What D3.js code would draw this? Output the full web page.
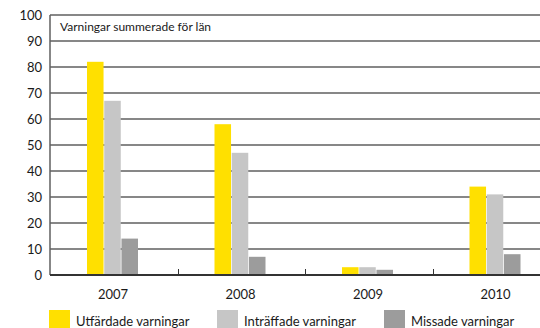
<!DOCTYPE html>
<html lang="sv">
<head>
<meta charset="UTF-8">
<title>Varningar summerade för län</title>
<script src="https://d3js.org/d3.v7.min.js"></script>
<style>
  body { margin: 0; background: #fff; }
  svg text { font-family: Lato, "Open Sans", sans-serif; fill: #1a1a1a; }
</style>
</head>
<body>
<div id="chart"></div>
<script>
var years = ['2007', '2008', '2009', '2010'];
var seriesNames = ['Utfärdade varningar', 'Inträffade varningar', 'Missade varningar'];
var utfardade = [82, 58, 3, 34];
var intraffade = [67, 47, 3, 31];
var missade = [14, 7, 2, 8];
var yTicks = [0, 10, 20, 30, 40, 50, 60, 70, 80, 90, 100];
var colors = ['#ffe000', '#c6c6c6', '#9c9c9c'];

var W = 540, H = 328;
var margin = { top: 15, left: 50 };
var plotW = 510, plotH = 260;

var svg = d3.select('#chart').append('svg')
  .attr('width', W).attr('height', H);

var g = svg.append('g')
  .attr('transform', 'translate(' + margin.left + ',' + margin.top + ')');

var x = d3.scaleBand().domain(years).range([0, plotW]);
var xs = d3.scaleBand().domain(d3.range(3)).range([37, 88]).paddingInner(0.04);
var y = d3.scaleLinear().domain([0, 100]).range([plotH, 0]);

// gridlines
g.selectAll('.grid').data(yTicks.slice(1)).enter().append('line')
  .attr('x1', 0).attr('x2', W - margin.left)
  .attr('y1', function (d) { return y(d); })
  .attr('y2', function (d) { return y(d); })
  .attr('stroke', '#5f5f5f').attr('stroke-width', 1.5);

// y labels
g.selectAll('.ylab').data(yTicks).enter().append('text')
  .attr('x', -8)
  .attr('y', function (d) { return y(d) + 4.5; })
  .attr('text-anchor', 'end')
  .attr('font-size', 13)
  .text(function (d) { return d; });

// bars
var table = years.map(function (yr, i) {
  return { year: yr, vals: [utfardade[i], intraffade[i], missade[i]] };
});

var groups = g.selectAll('.grp').data(table).enter().append('g')
  .attr('transform', function (d) { return 'translate(' + x(d.year) + ',0)'; });

groups.selectAll('rect').data(function (d) { return d.vals; }).enter().append('rect')
  .attr('x', function (d, i) { return xs(i); })
  .attr('width', xs.bandwidth())
  .attr('y', function (d) { return y(d); })
  .attr('height', function (d) { return plotH - y(d); })
  .attr('fill', function (d, i) { return colors[i]; });

// axes lines
g.append('line').attr('x1', 0).attr('x2', 0).attr('y1', 0).attr('y2', plotH)
  .attr('stroke', '#5f5f5f').attr('stroke-width', 1.5);
g.append('line').attr('x1', 0).attr('x2', W - margin.left).attr('y1', plotH).attr('y2', plotH)
  .attr('stroke', '#333').attr('stroke-width', 2);

// category separators
g.selectAll('.sep').data(years.slice(1)).enter().append('line')
  .attr('x1', function (d) { return Math.round(x(d)) + 0.5; })
  .attr('x2', function (d) { return Math.round(x(d)) + 0.5; })
  .attr('y1', plotH - 6).attr('y2', plotH)
  .attr('stroke', '#333').attr('stroke-width', 1);

// x labels
g.selectAll('.xlab').data(years).enter().append('text')
  .attr('x', function (d) { return x(d) + 63; })
  .attr('y', plotH + 24)
  .attr('text-anchor', 'middle')
  .attr('font-size', 13)
  .text(function (d) { return d; });

// title
g.append('text').attr('x', 10).attr('y', 16)
  .attr('font-size', 12)
  .text('Varningar summerade för län');

// legend
var legX = [49, 217, 384];
var leg = svg.selectAll('.leg').data(seriesNames).enter().append('g')
  .attr('transform', function (d, i) { return 'translate(' + legX[i] + ',310)'; });
leg.append('rect').attr('width', 21).attr('height', 20)
  .attr('fill', function (d, i) { return colors[i]; });
leg.append('text').attr('x', 27).attr('y', 16)
  .attr('font-size', 13)
  .text(function (d) { return d; });
</script>
</body>
</html>
